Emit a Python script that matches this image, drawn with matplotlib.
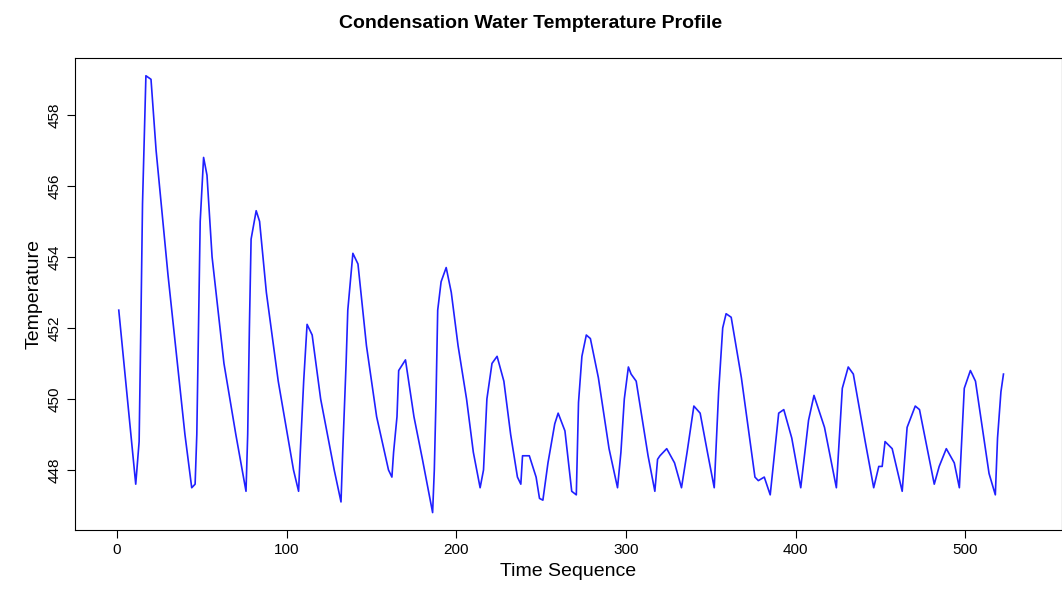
import matplotlib
matplotlib.use("Agg")
import matplotlib.pyplot as plt

plt.rcParams['font.family'] = ['Liberation Sans', 'DejaVu Sans']

# keypoints (time index, temperature)
seq = [1, 11, 13, 14, 15, 17, 20, 23, 30, 40, 44, 46, 47, 48, 49, 51, 53, 56, 63, 70,
       76, 77, 78, 79, 82, 84, 88, 95, 104, 107, 108, 110, 112, 115, 120, 128, 132, 133, 135, 136,
       139, 142, 147, 153, 160, 162, 163, 165, 166, 170, 175, 180, 186, 187, 188, 189, 191, 194, 197, 201,
       206, 210, 214, 216, 218, 221, 224, 228, 232, 236, 238, 239, 243, 247, 249, 251, 254, 258, 260, 264,
       268, 270.7, 272, 274, 276.6, 279, 283.7, 290, 295, 297, 299, 301.4, 303, 306, 313, 317, 318.6, 320, 324, 328.6,
       332.7, 336, 340, 343.7, 348, 352, 354.6, 357, 359, 362, 368, 376, 378, 381.5, 385, 390, 393, 397.7, 403, 407.6,
       410.8, 417, 424, 427.5, 431, 434, 441, 446, 449, 451, 452.7, 456.9, 462.8, 465.7, 470.5, 473, 481.7, 484.6, 488.8, 493.5,
       496.5, 499.4, 503, 506, 514, 517.7, 519, 521, 522.5]
temp = [452.5, 447.6, 448.8, 452.0, 455.5, 459.1, 459.0, 457.0, 453.5, 449.0, 447.5, 447.6, 449.0, 452.0, 455.0, 456.8, 456.3, 454.0, 451.0, 449.0,
        447.4, 449.0, 452.0, 454.5, 455.3, 455.0, 453.0, 450.5, 448.0, 447.4, 448.5, 450.5, 452.1, 451.8, 450.0, 448.0, 447.1, 448.5, 451.0, 452.5,
        454.1, 453.8, 451.5, 449.5, 448.0, 447.8, 448.5, 449.5, 450.8, 451.1, 449.5, 448.3, 446.8, 448.0, 450.0, 452.5, 453.3, 453.7, 453.0, 451.5,
        450.0, 448.5, 447.5, 448.0, 450.0, 451.0, 451.2, 450.5, 449.0, 447.8, 447.6, 448.4, 448.4, 447.8, 447.2, 447.15, 448.2, 449.3, 449.6, 449.1,
        447.4, 447.3, 449.9, 451.2, 451.8, 451.7, 450.6, 448.6, 447.5, 448.5, 450.0, 450.9, 450.7, 450.5, 448.4, 447.4, 448.3, 448.4, 448.6, 448.2,
        447.5, 448.5, 449.8, 449.6, 448.5, 447.5, 450.2, 452.0, 452.4, 452.3, 450.6, 447.8, 447.7, 447.8, 447.3, 449.6, 449.7, 448.9, 447.5, 449.4,
        450.1, 449.2, 447.5, 450.3, 450.9, 450.7, 448.8, 447.5, 448.1, 448.1, 448.8, 448.6, 447.4, 449.2, 449.8, 449.7, 447.6, 448.1, 448.6, 448.2,
        447.5, 450.3, 450.8, 450.5, 447.9, 447.3, 448.9, 450.2, 450.7]

fig = plt.figure(figsize=(10.62, 6), dpi=100)
ax = fig.add_axes([75 / 1062, 70 / 600, 987 / 1062, 472 / 600])
ax.plot(seq, temp, color="#2020ff", linewidth=1.2)

ax.set_xlim(-24.8, 557)
ax.set_ylim(446.31, 459.6)
ax.set_xticks([0, 100, 200, 300, 400, 500])
ax.set_yticks([448, 450, 452, 454, 456, 458])
ax.tick_params(direction="out", length=6, labelsize=11)
for lbl in ax.get_yticklabels():
    lbl.set_rotation(90)
    lbl.set_va("center")
ax.set_xlabel("Time Sequence", fontsize=14)
ax.set_ylabel("Temperature", fontsize=14)
fig.suptitle("Condensation Water Tempterature Profile", fontsize=14, fontweight="bold", y=0.975)

fig.savefig("out.png", dpi=100)
